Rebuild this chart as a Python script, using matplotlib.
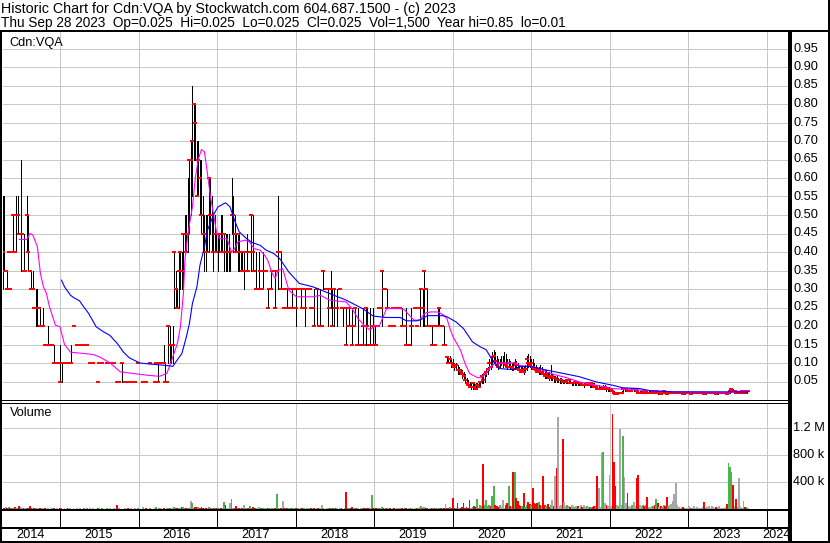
import numpy as np
import pandas as pd
import matplotlib
matplotlib.use("Agg")
import matplotlib.pyplot as plt
from matplotlib.transforms import blended_transform_factory

plt.rcParams['font.family'] = ['Liberation Sans', 'DejaVu Sans']

# ---------------- data (weekly, prices in cents, volume in thousands; 0 = no trades) ----------------
start_date = "2014-04-10"

close_c = [
    40,35,35,30,40,30,40,50,40,50, 50,45,45,45,35,35,50,40,35,30,
    30,25,25,25,25,20,20,20,15,15, 15,15,15,15,10,10,10,10,5,10,
    10,10,15,10,10,10,20,20,15,15, 15,15,15,10,15,10,15,10,10,10,
    10,10,10,5,10,5,10,5,5,10, 10,10,5,10,10,10,5,5,5,10,
    5,5,10,5,5,5,10,5,5,5, 10,5,5,5,10,5,5,5,10,5,
    5,5,10,5,10,10,15,10,5,5, 20,15,15,15,40,30,25,35,40,35,
    45,45,40,45,65,65,70,80,75,55, 65,60,50,45,45,40,40,60,50,50,
    40,45,40,45,45,40,40,45,40,40, 40,40,50,50,45,40,45,40,40,35,
    35,40,40,35,40,50,40,35,30,30, 30,35,30,35,35,35,25,30,30,35,
    35,25,35,40,40,30,30,25,30,25, 25,30,25,30,30,25,30,25,30,25,
    30,25,30,30,30,25,25,20,20,30, 20,20,20,35,30,30,30,25,30,20,
    30,25,25,30,30,25,25,25,15,20, 25,20,15,20,25,15,15,15,15,20,
    15,25,20,15,15,20,15,20,15,20, 25,25,35,30,30,25,25,20,25,25,
    20,25,25,25,25,20,25,20,15,15, 15,20,20,25,25,20,25,25,30,25,
    35,30,20,20,20,15,20,15,20,20, 25,20,20,15,15,11.5,10,11,10,9.5,
    9,9.5,8,8,7.5,7,6.5,5.5,4.5,4, 3.5,3.5,4.5,3.5,3,4,3.5,5,6.5,5.5,
    7,7.5,8.5,10,9,11.5,12,10.5,9.5,9, 10,10,10,10,9.5,9,10,9,9,8.5,
    10,9.5,8.5,8,7.5,8,7.5,8.5,11,10, 9.5,10,9,8.5,8,7.5,8,7.5,7.5,7,
    6.5,7,6.5,6,6.5,6.5,6,6,5.5,5.5, 5.5,5.5,5,5,5,5.5,5.5,4.5,4.5,4.5,
    5,5,4.5,4.5,4.5,4,4,4,4.5,4.5, 4,4.5,4,3.5,3.5,3,3,3,3,3.5,
    3.5,3,3,3,3,2.5,2,1.5,1.5,2, 2,2,3,3,3,2.5,2.5,2.5,3,3,
    3,2.5,2,2,2,2.5,2,2.5,2,2, 2,2,2.5,2,2.5,2,2,1.5,2,2.5,
    2,1.5,2,2,2,2,2,2,2,2, 2,2,1.5,2,2,2,2,1.5,2,2,
    2,2,2,2,2,2,1.5,2,2,2, 2,2,2,2,1.5,2,2,2,2,2,
    2,1.5,2,2.5,3,2.5,2.5,2,2,2, 2,2.5,2.5,2,2.5,2.5,
]

high_c = [
    55,55,35,35,40,30,40,50,40,55, 55,45,65,45,45,35,55,50,35,35,
    35,25,30,30,25,25,20,25,15,15, 20,15,15,15,15,10,10,10,15,10,
    10,10,15,10,10,15,20,20,15,15, 15,15,15,10,15,10,15,10,10,10,
    10,10,10,5,10,5,10,5,5,10, 10,10,5,10,10,10,5,5,5,10,
    5,5,10,5,5,5,10,5,5,5, 10,5,5,5,10,5,5,5,10,5,
    5,5,10,10,10,10,15,15,10,5, 20,20,15,20,40,35,30,40,40,40,
    45,50,50,60,65,70,85,80,80,70, 70,65,65,55,50,50,50,60,60,55,
    50,50,45,45,45,50,50,45,45,45, 45,40,60,55,50,45,45,45,40,40,
    40,40,45,35,40,50,50,35,40,30, 40,35,30,40,35,35,30,30,35,35,
    35,35,35,55,40,40,30,25,30,30, 25,30,30,30,30,30,30,25,30,25,
    30,30,30,30,30,25,25,30,20,30, 20,30,20,35,30,30,30,25,35,30,
    30,25,30,30,30,25,25,25,25,20, 25,20,25,20,25,15,25,15,15,25,
    15,25,25,15,25,20,25,20,15,20, 25,25,35,30,30,30,25,20,25,25,
    20,25,25,25,25,25,25,20,25,15, 15,25,20,25,25,20,25,30,30,30,
    35,30,30,20,20,20,20,15,20,25, 25,20,20,20,15,12,12,12,11,11,
    10,10,9.5,9,8.5,8,7.5,7,6,5.5, 5,4.5,5,5,4.5,4.5,5,5,7,7,
    7.5,8,9,11,12,13,13.5,13,12,11, 11,12,12,13,12.5,11,11,10.5,10,10,
    11,10.5,10,9.5,9,9,9,9.5,12,12.5, 12,11,11,10,9.5,9,9,9.5,9,8.5,
    8,8,7.5,7.5,9.5,7,6.5,6.5,6.5,6, 6,6,5.5,5.5,5.5,5.5,5.5,5.5,5,5,
    5,5,5,5,5,4.5,4.5,4.5,5,4.5, 4.5,4.5,4.5,4.5,4,4,4,3.5,3.5,4,
    4,3.5,3.5,3.5,3,3,2.5,2,2,2, 2,2.5,3,3,3,3,3,3,3,3,
    3,3,2.5,2.5,2.5,2.5,2.5,2.5,2.5,2.5, 2.5,2,2.5,2.5,2.5,2.5,2,2,2,2.5,
    2.5,2,2,2,2,2,2,2,2,2, 2,2,2,2,2,2,2,2,2,2,
    2,2,2,2,2,2,2,2,2,2, 2,2,2,2,2,2,2,2,2,2,
    2,2,2,2.5,3,3,2.5,2.5,2,2.5, 2,2.5,2.5,2.5,2.5,2.5,
]

low_c = [
    30,35,35,30,40,30,40,40,40,40, 45,45,35,45,35,35,40,35,35,30,
    30,25,20,20,25,20,20,20,15,15, 15,15,15,15,10,10,10,10,5,5,
    10,10,15,10,10,10,12,20,15,15, 15,15,15,10,15,10,15,10,10,10,
    10,10,10,5,10,5,10,5,5,10, 10,10,5,10,10,10,5,5,5,5,
    5,5,10,5,5,5,10,5,5,5, 10,5,5,5,10,5,5,5,10,5,
    5,5,10,5,10,10,15,10,5,5, 10,10,10,10,25,25,25,25,30,30,
    30,40,40,40,45,50,55,65,65,55, 55,50,45,40,35,35,40,40,45,40,
    35,40,40,35,40,40,40,35,35,35, 35,35,45,40,40,40,35,35,35,35,
    30,40,35,35,40,35,35,35,30,30, 30,35,30,30,35,35,25,30,30,35,
    35,25,35,30,40,30,30,25,30,25, 25,30,25,30,30,20,30,25,25,25,
    30,20,30,30,30,25,25,20,20,20, 20,20,20,30,30,30,20,25,25,20,
    20,25,20,30,30,25,20,25,15,20, 20,20,15,20,20,15,15,15,15,15,
    15,15,20,15,15,20,15,15,15,20, 25,25,20,30,30,25,25,20,20,25,
    20,25,25,25,25,20,25,20,15,15, 15,15,20,25,25,20,25,20,30,20,
    20,30,20,20,20,15,20,15,20,20, 20,20,20,15,15,10,10,10,9,9,
    8,8,7,7,7,6,6,5,4,3.5, 3.5,3,3,3.5,3,3,3.5,3.5,4.5,4.5,
    5,6.5,7,8,8.5,9,10,10,9,8.5, 9,9.5,9,9.5,9,8.5,9,8.5,8,8,
    8.5,8.5,8,7.5,7.5,7.5,7,7.5,8,9, 9,8.5,8.5,8,7.5,7.5,7,7,7,6.5,
    6,6,6,5.5,5.5,5.5,5,5,5,5, 4.5,4.5,4.5,4.5,4.5,4.5,5,4.5,4,4,
    4,4,4,4,4,4,3.5,4,4,4, 3.5,3.5,3.5,3.5,3,3,3,3,3,3,
    3,2.5,2.5,2.5,2.5,2,1.5,1.5,1.5,1.5, 2,2,2,2.5,2.5,2.5,2.5,2.5,2.5,2.5,
    2.5,2,2,2,2,2,2,2,2,2, 2,2,2,2,2,1.5,1.5,1.5,1.5,2,
    2,1.5,2,2,2,2,2,2,2,2, 2,2,1.5,1.5,2,2,2,1.5,1.5,2,
    2,2,2,2,2,2,1.5,1.5,2,2, 2,2,2,2,1.5,1.5,2,2,2,2,
    2,1.5,1.5,2,2.5,2.5,2.5,2,2,2, 2,2,2.5,2,2,2.5,
]

volume_k = [
    20,15,25,10,30,15,20,10,25,15, 20,45,30,15,10,20,15,10,45,20,
    10,15,20,10,15,10,20,15,10,5, 10,5,10,15,10,5,10,5,15,10,
    0,10,0,10,15,10,0,10,0,10, 0,10,0,0,10,0,15,0,10,0,
    10,0,0,10,15,0,10,0,0,10, 0,10,0,0,15,0,60,10,0,5,
    0,10,0,15,0,10,0,0,10,0, 10,0,0,30,0,10,0,0,10,0,
    0,10,25,5,10,15,0,10,5,10, 15,10,20,10,25,15,10,20,15,30,
    25,15,20,10,15,120,90,20,35,25, 30,20,25,15,20,10,15,25,20,15,
    20,15,10,15,20,10,15,104,60,15, 15,90,150,20,15,40,10,15,10,20,
    60,15,10,20,40,15,30,20,10,15, 30,10,15,20,10,15,10,20,10,15,
    15,10,220,10,15,15,120,10,15,10, 10,15,10,20,10,15,10,0,15,10,
    10,5,15,10,20,10,15,10,0,10, 10,15,60,10,0,15,10,20,10,15,
    10,15,10,0,15,10,5,10,250,15, 20,10,25,15,10,20,10,0,15,10,
    10,15,10,20,10,210,15,10,20,15, 10,20,30,10,15,10,20,10,0,15,
    10,0,15,10,20,10,0,15,10,5, 10,15,10,0,10,15,10,30,50,15,
    30,20,10,0,15,10,20,10,15,10, 15,10,20,10,70,15,10,30,10,165,
    20,15,85,15,20,30,85,20,25,15, 135,20,30,40,25,150,20,60,40,670,
    60,135,50,60,40,195,340,60,40,30, 60,30,135,20,60,90,340,40,30,555,
    550,160,120,60,40,50,240,30,60,110, 80,60,310,90,80,90,100,60,40,490,
    60,40,80,30,60,130,40,490,605,1370, 50,60,1040,100,50,55,50,30,55,40,
    30,45,50,20,60,30,55,30,40,25, 25,35,30,40,40,490,310,30,830,850,
    90,60,40,500,40,1410,700,340,60,40, 1190,60,1090,480,90,235,40,30,60,100,
    40,460,505,60,40,60,40,60,180,30, 30,40,40,60,150,90,30,40,30,60,
    50,180,40,60,70,120,220,390,60,30, 20,25,30,20,20,15,40,20,20,50,
    15,25,20,15,20,30,100,20,30,50, 20,40,30,20,25,15,40,20,15,20,
    25,70,680,630,550,350,40,150,30,460, 40,20,120,30,25,15,
]

# moving averages (week index, price)
ma_fast_week = [11,16,18,20,23,25,27,29,31,35,38,41,45,53,60,64,71,78,86,96,
                104,109,111,113,116,118,120,121,123,126,128,130,132,134,136,138,140,142,144,149,
                152,154,156,161,164,167,171,174,176,179,181,183,186,190,195,206,211,217,228,232,
                236,241,244,247,250,253,255,264,267,270,273,277,280,284,289,293,295,297,299,304,
                307,310,315,318,321,325,328,339,343,350,357,361,368,374,383,394,405,423,445,468,
                483,490,495]
ma_fast = [.434,.434,.450,.446,.414,.342,.306,.288,.252,.202,.198,.150,.129,.126,.123,.117,.101,.076,.072,.067,
           .064,.072,.094,.117,.153,.198,.288,.378,.450,.522,.603,.652,.677,.671,.612,.549,.504,.455,.436,.436,
           .400,.409,.427,.432,.427,.409,.405,.391,.378,.342,.329,.351,.355,.297,.279,.279,.283,.270,.265,.247,
           .220,.198,.189,.202,.199,.229,.247,.247,.243,.229,.216,.216,.234,.238,.238,.229,.220,.193,.171,.135,
           .099,.072,.061,.060,.072,.094,.100,.100,.094,.090,.085,.076,.067,.061,.049,.040,.031,.027,.022,.021,
           .020,.024,.024]

ma_slow_week = [39,41,45,47,51,53,57,62,67,71,76,80,84,91,98,107,113,115,119,122,
                124,126,129,131,134,136,140,143,148,151,154,157,162,166,171,175,180,184,190,197,
                206,217,228,239,246,250,255,264,268,275,278,282,292,295,301,306,312,317,321,326,
                330,339,343,350,361,372,383,394,405,412,423,430,445,468,495]
ma_slow = [.324,.306,.283,.277,.268,.256,.234,.198,.184,.175,.153,.130,.114,.100,.097,.094,.091,.103,.126,.171,
           .207,.261,.306,.364,.414,.459,.500,.522,.533,.522,.486,.455,.436,.425,.418,.405,.396,.382,.346,.315,
           .306,.288,.270,.247,.227,.225,.223,.223,.214,.214,.218,.228,.228,.225,.211,.193,.157,.144,.136,.103,
           .085,.082,.090,.091,.081,.072,.063,.049,.040,.033,.031,.025,.022,.022,.022]

price_ticks = [0.05,0.10,0.15,0.20,0.25,0.30,0.35,0.40,0.45,0.50,0.55,0.60,0.65,0.70,0.75,0.80,0.85,0.90,0.95]
vol_ticks = [400e3, 800e3, 1.2e6]
vol_tick_labels = ["400 k", "800 k", "1.2 M"]
years = list(range(2014, 2025))

title1 = "Historic Chart for Cdn:VQA by Stockwatch.com 604.687.1500 - (c) 2023"
title2 = ("Thu Sep 28 2023  Op=0.025  Hi=0.025  Lo=0.025  Cl=0.025  "
          "Vol=1,500  Year hi=0.85  lo=0.01")

# ---------------- prepare ----------------
n = min(len(close_c), len(high_c), len(low_c), len(volume_k))
close = np.array(close_c[:n], float) / 100
high = np.array(high_c[:n], float) / 100
low = np.array(low_c[:n], float) / 100
vol = np.array(volume_k[:n], float) * 1000
traded = vol > 0

dates = pd.date_range(start_date, periods=n, freq="7D")
t = np.asarray(dates.year + (dates.dayofyear - 1) / np.where(dates.is_leap_year, 366, 365), float)

chg = np.diff(close, prepend=close[0])
vcol = np.where(chg > 0, "#4db34d", np.where(chg < 0, "#ff0000", "#a8a8a8"))

fw = np.clip(np.array(ma_fast_week), 0, n - 1)
fs = np.clip(np.array(ma_slow_week), 0, n - 1)
ma_f_t = t[fw]
ma_s_t = t[fs]

XL = (2014.2744, 2024.2673)
W, H = 830, 543
GRID = "#c8c8c8"

def box(x0, y0, x1, y1):
    return [x0 / W, 1 - y1 / H, (x1 - x0) / W, (y1 - y0) / H]

fig = plt.figure(figsize=(W / 100, H / 100), dpi=100)
fig.patch.set_facecolor("white")

FS_T1 = 10.3
FS_T2 = 9.8
FS = 9.2

# price panel
ax = fig.add_axes(box(3, 30, 788, 400))
ax.set_xlim(*XL)
ax.set_ylim(0, 1.0)
ax.axis("off")
for p in price_ticks:
    ax.axhline(p, color=GRID, lw=0.6, antialiased=False, zorder=0)
for y in years[1:]:
    ax.axvline(y, color=GRID, lw=0.6, antialiased=False, zorder=0)
rng = (high > low) & traded
ax.vlines(t[rng], low[rng], high[rng], colors="black", lw=0.6, antialiased=False, zorder=2)
ax.plot(t[traded], close[traded], ls="none", marker="_", ms=2.2, mew=1.4, color="#ff0000",
        antialiased=False, zorder=3)
ax.plot(ma_f_t, ma_fast, color="#ff00ff", lw=0.8, zorder=4)
ax.plot(ma_s_t, ma_slow, color="#0000ff", lw=0.8, zorder=4)
tr = blended_transform_factory(ax.transAxes, ax.transData)
for p in price_ticks:
    ax.text(1.0064, p, f"{p:.2f}", transform=tr, ha="left", va="center",
            fontsize=FS, clip_on=False)
ax.text(0.0076, 0.966, "Cdn:VQA", transform=ax.transAxes, ha="left", va="center", fontsize=FS)

# volume panel
av = fig.add_axes(box(3, 402.5, 788, 509))
av.set_xlim(*XL)
av.set_ylim(0, 1.584e6)
av.axis("off")
for v in vol_ticks:
    av.axhline(v, color=GRID, lw=0.6, antialiased=False, zorder=0)
for y in years[1:]:
    av.axvline(y, color=GRID, lw=0.6, antialiased=False, zorder=0)
av.bar(t[traded], vol[traded], width=1.25 / 52.18, color=vcol[traded], linewidth=0,
       antialiased=False, zorder=2)
trv = blended_transform_factory(av.transAxes, av.transData)
for v, lab in zip(vol_ticks, vol_tick_labels):
    av.text(1.0064, v, lab, transform=trv, ha="left", va="center", fontsize=FS, clip_on=False)
av.text(0.0089, 0.90, "Volume", transform=av.transAxes, ha="left", va="center", fontsize=FS)

# date band
ab = fig.add_axes(box(3, 509, 788, 543))
ab.set_xlim(*XL)
ab.set_ylim(0, 34)
ab.axis("off")
ab.vlines(years[1:], 16, 34, colors="black", lw=0.6, antialiased=False)
for y in years:
    a = max(y, XL[0]); b = min(y + 1, XL[1])
    ab.text((a + b) / 2 - 0.01, 8.3, str(y), ha="center", va="center", fontsize=FS)

# frame overlay in pixel units
ov = fig.add_axes([0, 0, 1, 1])
ov.set_xlim(0, W)
ov.set_ylim(H, 0)
ov.axis("off")
ov.patch.set_alpha(0)
def seg(x0, y0, x1, y1, lw):
    ov.plot([x0, x1], [y0, y1], color="black", lw=lw * 0.72, antialiased=False,
            solid_capstyle="butt")
seg(0, 30.5, W, 30.5, 2)
seg(1, 30, 1, H, 2)
seg(828.5, 0, 828.5, H, 2)
seg(789.5, 30, 789.5, H, 2.3)
seg(0, 400, 789, 400, 1)
seg(0, 402.5, 789, 402.5, 1)
seg(0, 509.5, 789, 509.5, 2)
seg(0, 527.5, 789, 527.5, 2)
seg(0, 542, W, 542, 2)

ov.text(1, 13.3, title1, ha="left", va="baseline", fontsize=FS_T1)
ov.text(1, 27.5, title2, ha="left", va="baseline", fontsize=FS_T2)

fig.savefig("out.png", dpi=100, facecolor="white")
